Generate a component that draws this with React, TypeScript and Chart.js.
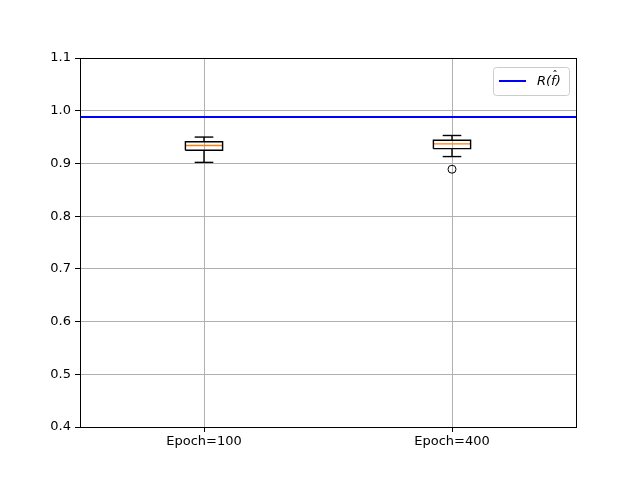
import React, { useEffect, useRef } from "react";
import { Chart, registerables } from "chart.js";

Chart.register(...registerables);

const categories = ["Epoch=100", "Epoch=400"];
const positions = [1, 2];
const q1 = [0.925, 0.928];
const medians = [0.934, 0.937];
const q3 = [0.941, 0.944];
const whiskerLow = [0.902, 0.913];
const whiskerHigh = [0.95, 0.953];
const outliers: number[][] = [[], [0.889]];
const referenceValue = 0.988;
const referenceLabel = "R(f\u0302)";
const yTicks = [0.4, 0.5, 0.6, 0.7, 0.8, 0.9, 1.0, 1.1];

const BOX_HALF = 0.075;
const CAP_HALF = 0.0375;
const FONT = "'DejaVu Sans', sans-serif";

const line = (pts: { x: number; y: number }[], color: string) => ({
  type: "scatter" as const,
  data: pts,
  showLine: true,
  borderColor: color,
  borderWidth: 1.4,
  pointRadius: 0,
  fill: false,
});

export default function App() {
  const ref = useRef<HTMLCanvasElement | null>(null);
  useEffect(() => {
    document.body.style.margin = "0";
    const datasets: any[] = [];
    positions.forEach((p, i) => {
      datasets.push(
        line(
          [
            { x: p - BOX_HALF, y: q1[i] },
            { x: p + BOX_HALF, y: q1[i] },
            { x: p + BOX_HALF, y: q3[i] },
            { x: p - BOX_HALF, y: q3[i] },
            { x: p - BOX_HALF, y: q1[i] },
          ],
          "#000000"
        )
      );
      datasets.push(line([{ x: p, y: q1[i] }, { x: p, y: whiskerLow[i] }], "#000000"));
      datasets.push(line([{ x: p, y: q3[i] }, { x: p, y: whiskerHigh[i] }], "#000000"));
      datasets.push(
        line([{ x: p - CAP_HALF, y: whiskerLow[i] }, { x: p + CAP_HALF, y: whiskerLow[i] }], "#000000")
      );
      datasets.push(
        line([{ x: p - CAP_HALF, y: whiskerHigh[i] }, { x: p + CAP_HALF, y: whiskerHigh[i] }], "#000000")
      );
      datasets.push(
        line([{ x: p - BOX_HALF, y: medians[i] }, { x: p + BOX_HALF, y: medians[i] }], "#ff7f0e")
      );
      if (outliers[i].length) {
        datasets.push({
          type: "scatter",
          data: outliers[i].map((v) => ({ x: p, y: v })),
          showLine: false,
          pointRadius: 4,
          pointBorderColor: "#000000",
          pointBackgroundColor: "rgba(0,0,0,0)",
          pointBorderWidth: 1,
        });
      }
    });
    datasets.push({
      type: "scatter",
      label: referenceLabel,
      data: [
        { x: 0.5, y: referenceValue },
        { x: 2.5, y: referenceValue },
      ],
      showLine: true,
      borderColor: "#0000ff",
      borderWidth: 2,
      pointRadius: 0,
    });

    const framePlugin = {
      id: "frameLegend",
      afterDatasetsDraw(chart: any) {
        const { ctx, chartArea } = chart;
        ctx.save();
        ctx.strokeStyle = "#000000";
        ctx.lineWidth = 1;
        ctx.strokeRect(
          Math.round(chartArea.left) + 0.5,
          Math.round(chartArea.top) + 0.5,
          Math.round(chartArea.right - chartArea.left),
          Math.round(chartArea.bottom - chartArea.top)
        );
        // legend
        const w = 76,
          h = 28;
        const x = chartArea.right - 7 - w;
        const y = chartArea.top + 9;
        ctx.beginPath();
        if (ctx.roundRect) ctx.roundRect(x + 0.5, y + 0.5, w, h, 3);
        else ctx.rect(x + 0.5, y + 0.5, w, h);
        ctx.fillStyle = "rgba(255,255,255,0.8)";
        ctx.fill();
        ctx.strokeStyle = "#cccccc";
        ctx.stroke();
        ctx.beginPath();
        ctx.strokeStyle = "#0000ff";
        ctx.lineWidth = 2;
        ctx.moveTo(x + 6, y + 14);
        ctx.lineTo(x + 33, y + 14);
        ctx.stroke();
        ctx.fillStyle = "#000000";
        ctx.font = "italic 13px " + FONT;
        ctx.textBaseline = "middle";
        // draw label pieces so the hat over f is visible
        const base = referenceLabel.replace("\u0302", "");
        let tx = x + 44;
        const ty = y + 15;
        const part1 = base.slice(0, 2);
        const part2 = base.slice(2, 3);
        const part3 = base.slice(3);
        ctx.fillText(part1, tx, ty);
        tx += ctx.measureText(part1).width;
        ctx.fillText(part2, tx, ty);
        const fw = ctx.measureText(part2).width;
        ctx.font = "11px " + FONT;
        ctx.textAlign = "center";
        ctx.fillText("\u02C6", tx + fw / 2 + 1.5, ty - 6);
        ctx.textAlign = "left";
        ctx.font = "italic 13px " + FONT;
        tx += fw;
        ctx.fillText(part3, tx, ty);
        ctx.restore();
      },
    };

    const chart = new Chart(ref.current!, {
      type: "scatter",
      data: { datasets },
      plugins: [framePlugin],
      options: {
        animation: false,
        responsive: false,
        layout: { padding: { left: 0, right: 64, top: 58, bottom: 0 } },
        plugins: { legend: { display: false }, tooltip: { enabled: false } },
        scales: {
          x: {
            type: "linear",
            min: 0.5,
            max: 2.5,
            afterBuildTicks: (s: any) => {
              s.ticks = positions.map((v) => ({ value: v }));
            },
            afterFit: (s: any) => {
              s.height = 53;
            },
            ticks: {
              callback: (v: any) => {
                const i = positions.indexOf(Number(v));
                return i >= 0 ? categories[i] : "";
              },
              color: "#000000",
              font: { family: FONT, size: 13 },
              padding: 2,
              maxRotation: 0,
            },
            grid: { color: "#b0b0b0", lineWidth: 1, tickLength: 5, tickColor: "#000000" },
            border: { display: false },
          },
          y: {
            min: 0.4,
            max: 1.1,
            afterBuildTicks: (s: any) => {
              s.ticks = yTicks.map((v) => ({ value: v }));
            },
            afterFit: (s: any) => {
              s.width = 80;
            },
            ticks: {
              callback: (v: any) => Number(v).toFixed(1),
              color: "#000000",
              font: { family: FONT, size: 13 },
              padding: 4,
            },
            grid: { color: "#b0b0b0", lineWidth: 1, tickLength: 5, tickColor: "#000000" },
            border: { display: false },
          },
        },
      },
    });
    return () => chart.destroy();
  }, []);
  return (
    <div style={{ width: 640, height: 480 }}>
      <canvas ref={ref} width={640} height={480} style={{ width: 640, height: 480 }} />
    </div>
  );
}
